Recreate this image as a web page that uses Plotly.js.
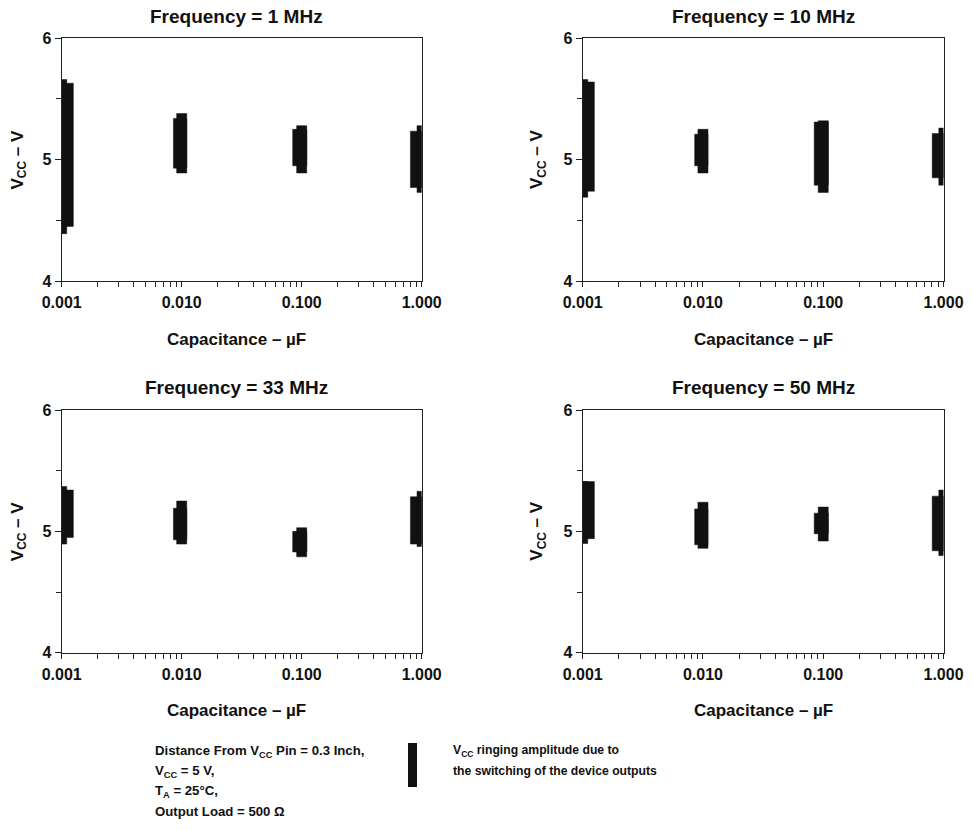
<!DOCTYPE html>
<html>
<head>
<meta charset="utf-8">
<script src="https://cdn.plot.ly/plotly-3.0.1.min.js"></script>
<style>html,body{margin:0;padding:0;background:#fff;}#chart{width:972px;height:830px;}</style>
</head>
<body>
<div id="chart"></div>
<script>
// ---- data ----
const capacitance = [0.001, 0.01, 0.1, 1];
const panelTitles = ['Frequency = 1 MHz', 'Frequency = 10 MHz', 'Frequency = 33 MHz', 'Frequency = 50 MHz'];
const xTickVals = [0.001, 0.01, 0.1, 1];
const xTickText = ['0.001', '0.010', '0.100', '1.000'];
const xMinorVals = [0.002,0.003,0.004,0.005,0.006,0.007,0.008,0.009,
                    0.02,0.03,0.04,0.05,0.06,0.07,0.08,0.09,
                    0.2,0.3,0.4,0.5,0.6,0.7,0.8,0.9];
const yTickVals = [4, 5, 6];
const yTickText = ['4', '5', '6'];
const yMinorVals = [4.5, 5.5];

// ringing envelope: main body (min/max) and short peak excursions (min/max), V
const f1BodyMax = [5.63, 5.34, 5.25, 5.235];
const f1BodyMin = [4.45, 4.93, 4.95, 4.77];
const f1PeakMax = [5.66, 5.38, 5.28, 5.28];
const f1PeakMin = [4.39, 4.89, 4.89, 4.73];

const f10BodyMax = [5.64, 5.21, 5.31, 5.215];
const f10BodyMin = [4.74, 4.95, 4.79, 4.85];
const f10PeakMax = [5.66, 5.25, 5.32, 5.26];
const f10PeakMin = [4.69, 4.89, 4.73, 4.79];

const f33BodyMax = [5.34, 5.19, 5.00, 5.285];
const f33BodyMin = [4.95, 4.93, 4.83, 4.895];
const f33PeakMax = [5.37, 5.25, 5.03, 5.33];
const f33PeakMin = [4.895, 4.895, 4.79, 4.875];

const f50BodyMax = [5.41, 5.185, 5.15, 5.29];
const f50BodyMin = [4.94, 4.89, 4.98, 4.84];
const f50PeakMax = [5.41, 5.24, 5.20, 5.34];
const f50PeakMin = [4.90, 4.86, 4.92, 4.80];

// ---- style ----
const FONT = 'Liberation Sans, Arial, Helvetica, sans-serif';
const INK = '#111';
// horizontal extent of each mark, in decades relative to its capacitance
const bodyOff = [[-0.014, 0.097], [-0.069, 0.042], [-0.075, 0.042], [-0.094, 0.017]];
const peakOff = [[-0.014, 0.042], [-0.042, 0.042], [-0.042, 0.042], [-0.039, 0.0]];

const panels = [
  {bMax: f1BodyMax, bMin: f1BodyMin, pMax: f1PeakMax, pMin: f1PeakMin},
  {bMax: f10BodyMax, bMin: f10BodyMin, pMax: f10PeakMax, pMin: f10PeakMin},
  {bMax: f33BodyMax, bMin: f33BodyMin, pMax: f33PeakMax, pMin: f33PeakMin},
  {bMax: f50BodyMax, bMin: f50BodyMin, pMax: f50PeakMax, pMin: f50PeakMin}
];

function rects(lo, hi, off) {
  const xs = [], ys = [];
  capacitance.forEach((c, i) => {
    const a = c * Math.pow(10, off[i][0]);
    const b = c * Math.pow(10, off[i][1]);
    xs.push(a, b, b, a, a, null);
    ys.push(lo[i], lo[i], hi[i], hi[i], lo[i], null);
  });
  return {xs, ys};
}

const traces = [];
panels.forEach((p, k) => {
  const ax = k === 0 ? '' : String(k + 1);
  [[p.bMin, p.bMax, bodyOff], [p.pMin, p.pMax, peakOff]].forEach(([lo, hi, off]) => {
    const r = rects(lo, hi, off);
    traces.push({
      type: 'scatter', mode: 'lines', x: r.xs, y: r.ys,
      fill: 'toself', fillcolor: INK, line: {color: INK, width: 0.5},
      xaxis: 'x' + ax, yaxis: 'y' + ax, hoverinfo: 'skip', showlegend: false
    });
  });
});

const W = 972, H = 830;
const colX = [[61.7, 421.7], [582.7, 943.5]];
const rowY = [[38.3, 281], [410, 652.7]];

function xAxis(dom, anchor) {
  return {
    type: 'log', range: [-3, 0], domain: dom, anchor: anchor,
    tickmode: 'array', tickvals: xTickVals, ticktext: xTickText,
    ticks: 'outside', ticklen: 5, tickwidth: 1, tickcolor: '#222',
    minor: {tickmode: 'array', tickvals: xMinorVals, ticks: 'outside', ticklen: 5, tickwidth: 1, tickcolor: '#222', showgrid: false},
    ticklabelstandoff: 2,
    showline: true, mirror: true, linecolor: '#222', linewidth: 1,
    showgrid: false, zeroline: false,
    tickfont: {family: FONT, size: 16, weight: 'bold', color: INK}
  };
}
function yAxis(dom, anchor) {
  return {
    range: [4, 6], domain: dom, anchor: anchor,
    tickmode: 'array', tickvals: yTickVals, ticktext: yTickText,
    ticks: 'outside', ticklen: 6, tickwidth: 1, tickcolor: '#222',
    minor: {tickmode: 'array', tickvals: yMinorVals, ticks: 'outside', ticklen: 5, tickwidth: 1, tickcolor: '#222', showgrid: false},
    showline: true, mirror: true, linecolor: '#222', linewidth: 1,
    showgrid: false, zeroline: false,
    tickfont: {family: FONT, size: 16, weight: 'bold', color: INK}
  };
}

const layout = {
  width: W, height: H,
  margin: {l: 0, r: 0, t: 0, b: 0},
  paper_bgcolor: '#fff', plot_bgcolor: '#fff',
  showlegend: false,
  font: {family: FONT, color: INK},
  annotations: [], shapes: []
};

const titleCx = [236, 763];
const yTitleX = [18.5, 538];
for (let k = 0; k < 4; k++) {
  const col = k % 2, row = Math.floor(k / 2);
  const ax = k === 0 ? '' : String(k + 1);
  const xd = [colX[col][0] / W, colX[col][1] / W];
  const yd = [1 - rowY[row][1] / H, 1 - rowY[row][0] / H];
  layout['xaxis' + ax] = xAxis(xd, 'y' + ax);
  layout['yaxis' + ax] = yAxis(yd, 'x' + ax);
  const off = row * 371.7;
  layout.annotations.push({
    text: panelTitles[k], xref: 'paper', yref: 'paper',
    x: titleCx[col] / W, y: 1 - (16 + off) / H, xanchor: 'center', yanchor: 'middle',
    showarrow: false, font: {family: FONT, size: 19, weight: 'bold', color: INK}
  });
  layout.annotations.push({
    text: 'Capacitance – µF', xref: 'paper', yref: 'paper',
    x: titleCx[col] / W, y: 1 - (339 + off) / H, xanchor: 'center', yanchor: 'middle',
    showarrow: false, font: {family: FONT, size: 17, weight: 'bold', color: INK}
  });
  layout.annotations.push({
    text: 'V<sub>CC</sub> – V', xref: 'paper', yref: 'paper', textangle: -90,
    x: yTitleX[col] / W, y: 1 - (160 + off) / H, xanchor: 'center', yanchor: 'middle',
    showarrow: false, font: {family: FONT, size: 17, weight: 'bold', color: INK}
  });
}

const notes = ['Distance From V<sub>CC</sub> Pin = 0.3 Inch,', 'V<sub>CC</sub> = 5 V,', 'T<sub>A</sub> = 25°C,', 'Output Load = 500 Ω'];
const notesY = [751, 771, 791, 811];
notes.forEach((t, i) => layout.annotations.push({
  text: t, xref: 'paper', yref: 'paper', x: 153 / W, y: 1 - notesY[i] / H,
  xanchor: 'left', yanchor: 'middle', showarrow: false,
  font: {family: FONT, size: 13.2, weight: 'bold', color: INK}
}));
const legendLines = ['V<sub>CC</sub> ringing amplitude due to', 'the switching of the device outputs'];
const legendY = [751, 771];
legendLines.forEach((t, i) => layout.annotations.push({
  text: t, xref: 'paper', yref: 'paper', x: 451 / W, y: 1 - legendY[i] / H,
  xanchor: 'left', yanchor: 'middle', showarrow: false,
  font: {family: FONT, size: 12.2, weight: 'bold', color: INK}
}));
layout.shapes.push({
  type: 'rect', xref: 'paper', yref: 'paper',
  x0: 408 / W, x1: 417 / W, y0: 1 - 787 / H, y1: 1 - 743 / H,
  fillcolor: INK, line: {width: 0}
});

Plotly.newPlot('chart', traces, layout, {displayModeBar: false, staticPlot: true});
</script>
</body>
</html>
